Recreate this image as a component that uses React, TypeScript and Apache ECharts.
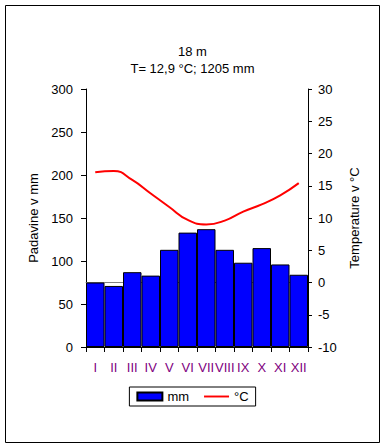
import React, { useEffect, useRef } from "react";
import * as echarts from "echarts";

const months = ["I", "II", "III", "IV", "V", "VI", "VII", "VIII", "IX", "X", "XI", "XII"];
const precipitation = [75, 71, 87, 83, 113, 133, 137, 113, 98, 115, 96, 84];
const temperature = [17.1, 17.3, 15.9, 13.8, 11.7, 9.7, 9.0, 9.6, 11.0, 12.1, 13.5, 15.4];
const titleLine1 = "18 m";
const titleLine2 = "T= 12,9 °C; 1205 mm";

const FONT = "'Liberation Sans', Arial, sans-serif";

export default function App() {
  const ref = useRef<HTMLDivElement>(null);
  useEffect(() => {
    if (!ref.current) return;
    const chart = echarts.init(ref.current, undefined, { renderer: "svg" });
    const txt = { fontFamily: FONT, fontSize: 13, color: "#000" };
    chart.setOption({
      animation: false,
      backgroundColor: "#fff",
      textStyle: { fontFamily: FONT },
      title: [
        { text: titleLine1, left: "center", top: 44, padding: 0, textStyle: { ...txt, fontWeight: "normal", lineHeight: 15 } },
        { text: titleLine2, left: "center", top: 61, padding: 0, textStyle: { ...txt, fontWeight: "normal", lineHeight: 15 } },
      ],
      graphic: [
        {
          type: "rect",
          shape: { x: 5.5, y: 5.5, width: 374, height: 437 },
          style: { fill: "none", stroke: "#000", lineWidth: 1 },
          silent: true,
        },
      ],
      grid: { left: 86, right: 77, top: 89, bottom: 101, containLabel: false },
      legend: {
        left: "center",
        top: 387,
        orient: "horizontal",
        borderColor: "#000",
        borderWidth: 1,
        padding: [3, 7],
        itemWidth: 25,
        itemHeight: 8,
        itemGap: 15,
        symbolKeepAspect: true,
        textStyle: { ...txt },
        data: [
          { name: "mm", icon: "rect" },
          {
            name: "°C",
            icon: "path://M0,0 L26,0 L26,2 L0,2 Z",
            itemStyle: { color: "#FF0000", borderWidth: 0 },
          },
        ],
      },
      xAxis: [
        {
          type: "category",
          data: months,
          position: "bottom",
          axisLine: { lineStyle: { color: "#000", width: 1 } },
          axisTick: { show: true, length: 5, lineStyle: { color: "#000" } },
          axisLabel: { ...txt, color: "#800080", margin: 14, interval: 0 },
          splitLine: { show: false },
        },
        {
          type: "category",
          data: months,
          position: "top",
          axisLine: { lineStyle: { color: "#808080", width: 1 } },
          axisTick: { show: false },
          axisLabel: { show: false },
          splitLine: { show: false },
        },
      ],
      yAxis: [
        {
          type: "value",
          min: 0,
          max: 300,
          interval: 50,
          position: "left",
          name: "Padavine v mm",
          nameLocation: "middle",
          nameGap: 43,
          nameRotate: 90,
          nameTextStyle: { ...txt },
          axisLine: { show: true, lineStyle: { color: "#000" } },
          axisTick: { show: true, length: 5, lineStyle: { color: "#000" } },
          axisLabel: { ...txt, margin: 13 },
          splitLine: { show: false },
        },
        {
          type: "value",
          min: -10,
          max: 30,
          interval: 5,
          position: "right",
          name: "Temperature v °C",
          nameLocation: "middle",
          nameGap: 37,
          nameRotate: 90,
          nameTextStyle: { ...txt },
          axisLine: { show: true, lineStyle: { color: "#000" } },
          axisTick: { show: true, length: 4, lineStyle: { color: "#000" } },
          axisLabel: { ...txt, margin: 10 },
          splitLine: { show: false },
        },
      ],
      series: [
        {
          name: "mm",
          type: "bar",
          yAxisIndex: 0,
          data: precipitation,
          barCategoryGap: "0%",
          itemStyle: { color: "#0000FF", borderColor: "#000", borderWidth: 1 },
        },
        {
          name: "°C",
          type: "line",
          yAxisIndex: 1,
          data: temperature,
          smooth: true,
          symbol: "none",
          showSymbol: false,
          lineStyle: { color: "#FF0000", width: 2 },
          itemStyle: { color: "#FF0000" },
        },
      ],
    });
    return () => chart.dispose();
  }, []);
  return (
    <div
      ref={ref}
      style={{ position: "fixed", left: 0, top: 0, width: 385, height: 448 }}
    />
  );
}
